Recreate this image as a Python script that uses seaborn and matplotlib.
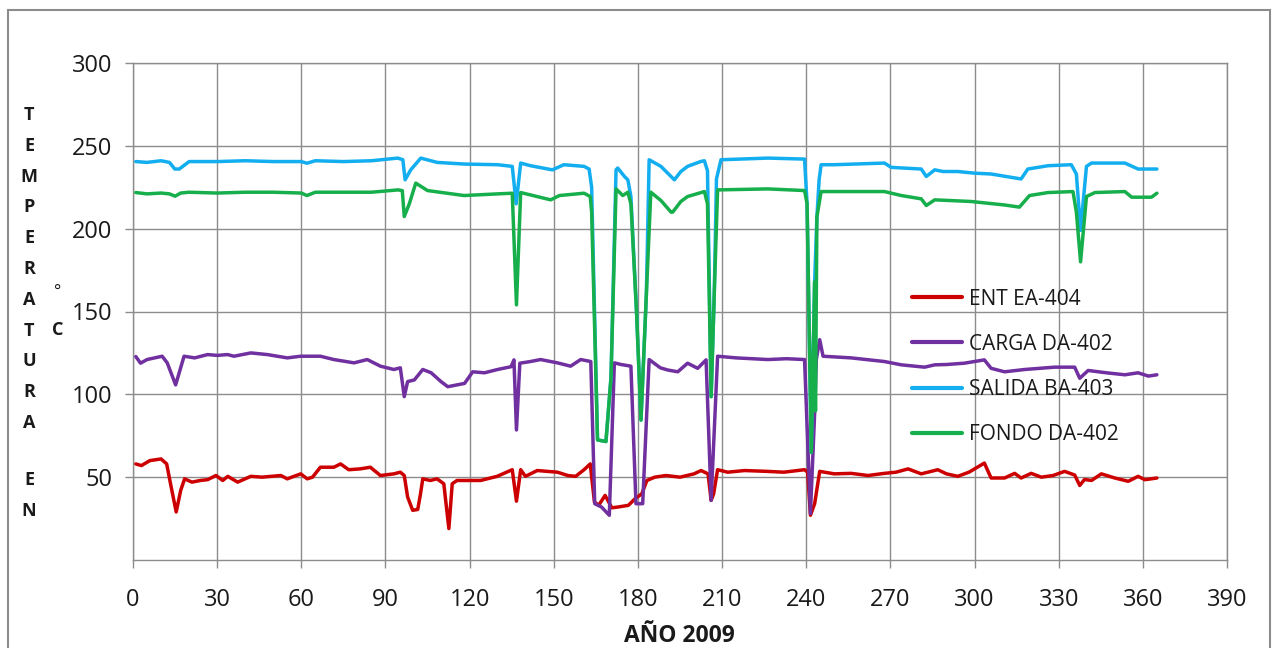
import matplotlib
matplotlib.use("Agg")
import matplotlib.pyplot as plt
import seaborn as sns
import pandas as pd
from matplotlib.patches import Rectangle

# ---------------- data ----------------
series_names = ["ENT EA-404", "CARGA DA-402", "SALIDA BA-403", "FONDO DA-402"]
series_colors = ["#CC0000", "#7030A0", "#12AEEF", "#17AF4C"]

ent_days = [1, 3, 6, 10, 12, 13.5, 15.4, 17, 18.4, 21,
            24, 26.6, 29.6, 32, 33.8, 37.3, 42, 46, 52.7, 55,
            59.8, 62.1, 64, 66.8, 71.6, 74, 76.9, 81, 84.6, 88.2,
            93, 95.3, 96.7, 97.9, 99.7, 101.5, 102.5, 103.3, 106, 108.4,
            110.8, 112.6, 113.8, 115.5, 120, 123.9, 129.8, 135.2, 136.7, 138.2,
            139.9, 144.1, 151.3, 155, 157.8, 160.8, 163, 164.5, 166, 168.3,
            170.7, 173, 176.6, 179, 181.4, 183.2, 186, 190, 195, 200,
            202.5, 205, 206.1, 207, 208.4, 212, 218, 226, 232, 239.4,
            240.5, 241.5, 243, 244.8, 250, 256, 262, 267.9, 272, 276.3,
            281, 286.9, 290, 294, 298, 303.5, 305.9, 310.7, 314.3, 316.6,
            320.2, 323.8, 328, 332.1, 335.7, 337.5, 339.2, 341.7, 345.2, 350,
            354.8, 358.3, 360.7, 363, 365]
ent_vals = [58, 57, 60, 61, 58, 45, 29, 42, 49, 47,
            48, 48.5, 51, 48, 50.5, 47, 50.5, 50, 51, 49,
            52, 49, 50, 56, 56, 58, 54.5, 55, 56, 51,
            52, 53, 51, 38, 30, 30.5, 40, 49, 48, 49,
            46, 19, 46, 48, 48, 48, 50.5, 54.5, 35.5, 54.5,
            50.5, 54, 53, 51, 50.5, 54.5, 58, 35, 33, 39,
            31.5, 32, 33, 37, 40, 48, 50, 51, 50, 52,
            54, 52, 36, 40, 54.5, 53, 54, 53.5, 53, 54.5,
            53, 27, 34, 53.5, 52, 52.3, 51, 52.3, 53, 55,
            52, 54.5, 52, 50.5, 53, 58.5, 49.5, 49.5, 52.3, 49.5,
            52.3, 50, 51, 53.5, 51.3, 45, 48.6, 48, 52, 49.5,
            47.5, 50.5, 48.5, 49, 49.5]

carga_days = [1, 2.7, 5, 10.4, 12.2, 15.2, 18.2, 22, 26.6, 30,
              33.7, 36, 42, 47.9, 55, 59.8, 66.8, 71.6, 78.8, 83.5,
              88.2, 93, 95.3, 96.7, 97.9, 100.3, 103.3, 106.3, 109.8, 112.2,
              118.2, 121.1, 125.3, 130, 134.8, 135.8, 136.7, 137.9, 141.7, 145.3,
              151.3, 156, 159.6, 163.2, 164.6, 167, 169.8, 171.6, 174, 177.5,
              179.3, 181.7, 184, 188, 190.6, 194.2, 197.7, 201.3, 204.3, 206.1,
              208.4, 215, 226.3, 233, 239.4, 241.5, 243, 243.6, 244.8, 246,
              256, 267.9, 273.9, 282.2, 285.8, 290, 296.4, 303.5, 305.9, 310.7,
              317.9, 328.5, 335.7, 337.5, 340.5, 347, 353.6, 358.3, 362, 365]
carga_vals = [122.8, 118.8, 121, 123, 119, 105.7, 123, 122, 124, 123.5,
              124, 123, 125, 124, 122, 123, 123, 121, 119, 121,
              117, 115, 116, 98.6, 107.7, 108.7, 115, 113, 107.7, 104.6,
              106.6, 113.6, 113, 115, 116.7, 120.8, 78.5, 118.8, 119.8, 121,
              119, 117, 121, 119.8, 34, 32, 27, 119, 118, 117,
              34, 34, 121, 116, 114.7, 113.6, 118.8, 115.7, 120.8, 36,
              123, 122, 121, 121.5, 121, 28, 88.6, 121, 133, 123,
              122, 119.8, 117.8, 116.4, 117.8, 118, 118.8, 120.8, 115.7, 113.6,
              115, 116.4, 116.4, 109.7, 114.4, 113, 111.8, 113, 111, 111.8]

salida_days = [1, 5, 10, 13, 14.9, 16.5, 20, 30, 40, 50,
               60, 62, 65, 75, 85, 94.4, 96.2, 97, 99, 102.6,
               108.4, 118.1, 130, 135.2, 136.6, 138.2, 141.7, 149.5, 153.6, 160.8,
               162.6, 163.5, 165.6, 168.6, 170.4, 172.2, 172.8, 175.2, 176.4, 177.5,
               179.5, 181.1, 183, 184, 188.2, 191.8, 193, 195.3, 197.7, 202.5,
               203.7, 204.8, 206.1, 207.2, 208, 209.6, 226.3, 239.4, 240.3, 241.8,
               243, 243.8, 244.6, 245.3, 250, 267.9, 270.3, 281, 282.8, 285.8,
               288.8, 294, 300, 305.9, 316.6, 319, 326.2, 334.5, 336.3, 337.8,
               339.9, 341.7, 353.6, 358.3, 365]
salida_vals = [240.5, 240, 241, 240, 236, 236, 240.5, 240.5, 241, 240.5,
               240.5, 239.5, 241, 240.5, 241, 242.6, 241.6, 229.5, 235.5, 242.6,
               240, 239, 238.6, 237.6, 215, 239.6, 238, 235.5, 238.6, 237.6,
               236, 225, 72.5, 71.5, 110, 235.5, 236.6, 231.5, 229.5, 219.5,
               150, 84.5, 160, 241.6, 237.6, 231.5, 229.5, 234.5, 237.6, 240.6,
               241, 235, 98.6, 160, 230, 241.6, 242.6, 242, 215, 65,
               168, 207, 229.5, 238.6, 238.6, 239.6, 237, 236, 231.5, 235.5,
               234.5, 234.5, 233.5, 233, 230, 236, 238, 238.6, 233, 199,
               237.6, 239.6, 239.6, 236, 236]

fondo_days = [1, 5, 10, 13, 15, 17, 20, 30, 40, 50,
              60, 62, 65, 75, 85, 94.4, 96, 96.7, 98.5, 100.8,
              105, 118, 130, 135.2, 136.7, 138.2, 148.9, 152, 160.8, 163,
              163.5, 165.6, 168.6, 170.4, 172.2, 174.6, 176.4, 177.5, 179.5, 181.1,
              183, 184.6, 188.2, 191.8, 192.4, 195.3, 197.7, 203.7, 204.8, 206.1,
              207.2, 208.4, 226.3, 239.4, 240.3, 241.8, 243, 243.3, 243.8, 245.3,
              267.9, 273.9, 281, 282.8, 285.8, 298.8, 310.7, 316, 319.6, 326.2,
              335.1, 336.3, 337.8, 339.9, 342.9, 353.6, 356, 363.1, 365]
fondo_vals = [221.8, 221, 221.5, 221, 219.6, 221.5, 222, 221.5, 222, 222,
              221.5, 220, 222, 222, 222, 223.4, 223, 207.3, 215, 227.5,
              223, 220, 221, 221.4, 154, 221.8, 217.4, 220, 221.4, 219.4,
              210, 72.5, 71.5, 110, 224, 220, 222, 215, 150, 84.5,
              160, 222, 217, 210, 210, 216.4, 219.4, 222.4, 215, 98.6,
              160, 223.4, 224, 223, 215, 65, 168, 90, 207, 222.4,
              222.4, 220, 218, 214, 217.4, 216.4, 214.3, 213, 220, 221.8,
              222.4, 210, 180, 219.4, 221.8, 222.4, 219, 219, 221.4]

x_ticks = [0, 30, 60, 90, 120, 150, 180, 210, 240, 270, 300, 330, 360, 390]
y_ticks = [50, 100, 150, 200, 250, 300]
x_label = "AÑO 2009"
y_label_letters = "TEMPERATURA EN"

# ---------------- build long table ----------------
frames = []
for name, d, v in [(series_names[0], ent_days, ent_vals),
                   (series_names[1], carga_days, carga_vals),
                   (series_names[2], salida_days, salida_vals),
                   (series_names[3], fondo_days, fondo_vals)]:
    frames.append(pd.DataFrame({"dia": d, "temp": v, "serie": name}))
df = pd.concat(frames, ignore_index=True)

# ---------------- plot ----------------
sns.set_theme(style="white")
plt.rcParams["font.family"] = ["Open Sans", "DejaVu Sans"]

W, H = 1281, 648
fig = plt.figure(figsize=(W / 100, H / 100), dpi=100)
ax = fig.add_axes([133 / W, 1 - 560 / H, (1227 - 133) / W, (560 - 63) / H])

sns.lineplot(data=df, x="dia", y="temp", hue="serie", hue_order=series_names,
             palette=series_colors, estimator=None, sort=False, linewidth=2.5,
             ax=ax, zorder=3)

ax.set_xlim(0, 390)
ax.set_ylim(0, 300)
ax.set_xticks(x_ticks)
ax.set_yticks(y_ticks)
ax.grid(True, color="#8C8C8C", linewidth=1.0)
ax.set_axisbelow(True)
for s in ax.spines.values():
    s.set_color("#8C8C8C")
    s.set_linewidth(1.0)
ax.tick_params(axis="both", direction="out", length=6, width=1.0, color="#8C8C8C",
               labelsize=17, labelcolor="#1a1a1a")
ax.tick_params(axis="x", pad=14)
ax.tick_params(axis="y", pad=9)
ax.tick_params(bottom=True, left=True)
ax.set_xlabel("")
ax.set_ylabel("")

leg = ax.legend(loc="upper left", bbox_to_anchor=(0.704, 0.563), frameon=False,
                fontsize=15, handlelength=2.4, handletextpad=0.35, labelspacing=1.16,
                borderaxespad=0)
for t in leg.get_texts():
    t.set_color("#1a1a1a")
for h in leg.get_lines():
    h.set_linewidth(3)

# axis titles
fig.text(679 / W, 1 - 636 / H, x_label, ha="center", va="center", fontsize=16.5,
         fontweight="bold", color="#1a1a1a")
y0 = 115
step = 30.8
row = 0
for ch in y_label_letters:
    if ch == " ":
        row += 0.85
        continue
    fig.text(29 / W, 1 - (y0 + row * step) / H, ch, ha="center", va="center",
             fontsize=13, fontweight="bold", color="#1a1a1a")
    row += 1
fig.text(58 / W, 1 - 293 / H, "°", ha="center", va="center", fontsize=12, color="#1a1a1a")
fig.text(58 / W, 1 - 330 / H, "C", ha="center", va="center", fontsize=13,
         fontweight="bold", color="#1a1a1a")

# outer chart border
fig.patches.append(Rectangle((8 / W, -0.05), (1270 - 8) / W, 1 - 10 / H + 0.05,
                             transform=fig.transFigure, fill=False,
                             edgecolor="#8C8C8C", linewidth=1.5))

fig.savefig("out.png", dpi=100)
